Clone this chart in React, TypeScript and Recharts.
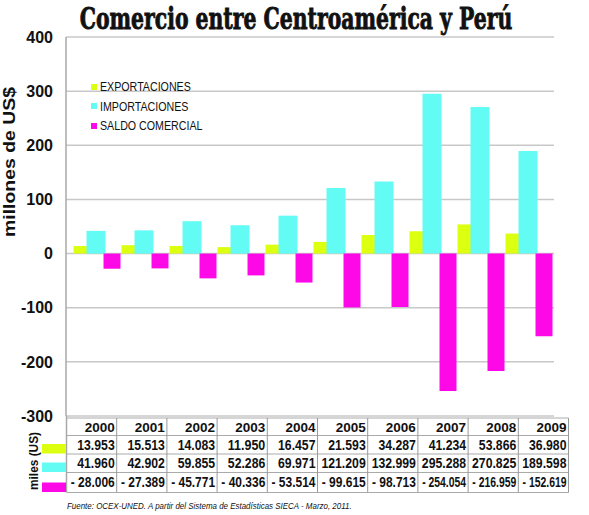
import React, { useLayoutEffect, useRef, useState } from "react";
import { BarChart, Bar, XAxis, YAxis, CartesianGrid, Legend } from "recharts";

// values in millions of US$ (table shows them as "miles")
const years = ["2000", "2001", "2002", "2003", "2004", "2005", "2006", "2007", "2008", "2009"];
const exportaciones = [13.953, 15.513, 14.083, 11.95, 16.457, 21.593, 34.287, 41.234, 53.866, 36.98];
const importaciones = [41.96, 42.902, 59.855, 52.286, 69.971, 121.209, 132.999, 295.288, 270.825, 189.598];
const saldo = [-28.006, -27.389, -45.771, -40.336, -53.514, -99.615, -98.713, -254.054, -216.959, -152.619];
const yTicks = [-300, -200, -100, 0, 100, 200, 300, 400];

const COL_EXP = "#DDFF10";
const COL_IMP = "#62FCF4";
const COL_SAL = "#FF08E8";

const data = years.map((y, i) => ({
	year: y,
	exp: exportaciones[i],
	imp: importaciones[i],
	saldo: saldo[i],
}));

const fmt = (v: number) => (v < 0 ? "- " + Math.abs(v).toFixed(3) : v.toFixed(3));

// the source table uses a narrow font, squeeze the numbers to fit
const fitWidth = (v: number) => {
	if (v < 0) return 44;
	const digits = Math.abs(v).toFixed(3).replace(".", "").length;
	return digits * 6.8 + 3.5;
};

const tableRows = [
	{ color: COL_EXP, values: exportaciones },
	{ color: COL_IMP, values: importaciones },
	{ color: COL_SAL, values: saldo },
];

const SANS = '"Liberation Sans", Arial, sans-serif';

// svg text squeezed horizontally to a given width (scale, so the box shrinks too)
const FitText = ({ x, y, width, anchor = "start", rotate = false, children, ...rest }: any) => {
	const ref = useRef<SVGTextElement>(null);
	const [k, setK] = useState(1);
	useLayoutEffect(() => {
		if (ref.current) {
			const w = ref.current.getComputedTextLength();
			if (w > 0) setK(width / w);
		}
	}, [width]);
	const t = rotate
		? `translate(${x},${y}) rotate(-90) scale(${k},1)`
		: `translate(${x},${y}) scale(${k},1)`;
	return (
		<text ref={ref} x={0} y={0} transform={t} textAnchor={anchor} {...rest}>
			{children}
		</text>
	);
};

const LegendBox = (props: any) => {
	const { payload } = props;
	return (
		<div style={{ fontFamily: SANS, fontSize: 13, color: "#111" }}>
			{(payload || []).map((p: any) => (
				<div key={p.value} style={{ height: 19.6, display: "flex", alignItems: "center" }}>
					<span style={{ display: "inline-block", width: 6, height: 6, background: p.color, marginRight: 3 }} />
					<span style={{ display: "inline-block", transform: "scaleX(0.82)", transformOrigin: "left center", whiteSpace: "nowrap" }}>
						{p.value}
					</span>
				</div>
			))}
		</div>
	);
};

const Overlay = () => {
	const rowLines = [418, 435.5, 454, 472.5, 492.5];
	const colW = 50.2;
	const left = 66.5;
	const baselines = [432, 450, 468, 487];
	return (
		<svg width={589} height={515} style={{ position: "absolute", left: 0, top: 0, pointerEvents: "none" }}>
			<FitText
				x={296}
				y={29}
				width={433}
				anchor="middle"
				fontFamily='"DejaVu Serif", serif'
				fontWeight="bold"
				fontSize={30}
				fill="#111"
				stroke="#111"
				strokeWidth={0.9}
			>
				Comercio entre Centroamérica y Perú
			</FitText>
			<FitText x={15} y={162} width={150} rotate anchor="middle" fontFamily={SANS} fontWeight="bold" fontSize={17} fill="#111">
				millones de US$
			</FitText>
			<FitText x={38} y={461} width={58} rotate anchor="middle" fontFamily={SANS} fontWeight="bold" fontSize={13} fill="#111">
				miles (US)
			</FitText>
			{/* table grid */}
			{rowLines.map((y) => (
				<line key={y} x1={left} x2={left + colW * 10} y1={y} y2={y} stroke="#aaa" strokeWidth={1} />
			))}
			{years.map((_, i) => (
				<line key={i} x1={left + colW * (i + 1)} x2={left + colW * (i + 1)} y1={418} y2={492.5} stroke="#999" strokeWidth={1} />
			))}
			<line x1={left} x2={left} y1={416} y2={492.5} stroke="#a8a8a8" strokeWidth={1.5} />
			{years.map((y, i) => (
				<text key={y} x={left + colW * (i + 1) - 2} y={baselines[0]} textAnchor="end" fontFamily={SANS} fontWeight="bold" fontSize={13.5} fill="#111">
					{y}
				</text>
			))}
			{tableRows.map((r, ri) => (
				<g key={ri}>
					<rect x={42} y={rowLines[ri + 2] - 10} width={24} height={9.5} fill={r.color} />
					{r.values.map((v, i) => (
						<FitText
							key={i}
							x={left + colW * (i + 1) - 2}
							y={baselines[ri + 1]}
							width={fitWidth(v)}
							anchor="end"
							fontFamily={SANS}
							fontWeight="bold"
							fontSize={14}
							fill="#111"
						>
							{fmt(v)}
						</FitText>
					))}
				</g>
			))}
			<FitText x={67} y={508.5} width={285} fontFamily={SANS} fontStyle="italic" fontSize={9.5} fill="#111">
				Fuente: OCEX-UNED. A partir del Sistema de Estadísticas SIECA - Marzo, 2011.
			</FitText>
		</svg>
	);
};

export default function App() {
	return (
		<div style={{ position: "absolute", left: 0, top: 0, width: 589, height: 515, background: "#fff" }}>
			<BarChart
				width={589}
				height={515}
				data={data}
				margin={{ top: 37, right: 35, bottom: 99, left: 6 }}
				barGap={-2}
				barCategoryGap={0}
			>
				<CartesianGrid vertical={false} stroke="#c8c8c8" strokeWidth={1.5} />
				<XAxis dataKey="year" hide padding={{ left: 6.5, right: 1.5 }} />
				<YAxis
					width={60}
					domain={[-300, 400]}
					ticks={yTicks}
					interval={0}
					tickSize={0}
					tickMargin={13}
					axisLine={{ stroke: "#a8a8a8", strokeWidth: 1.5 }}
					tick={{ fill: "#111", fontFamily: SANS, fontWeight: "bold", fontSize: 16 }}
				/>
				<Legend
					content={<LegendBox />}
					layout="horizontal"
					align="center"
					verticalAlign="middle"
					wrapperStyle={{ position: "absolute", left: 91, top: 77, width: "auto" }}
				/>
				<Bar dataKey="exp" name="EXPORTACIONES" fill={COL_EXP} barSize={15} isAnimationActive={false} />
				<Bar dataKey="imp" name="IMPORTACIONES" fill={COL_IMP} barSize={19} isAnimationActive={false} />
				<Bar dataKey="saldo" name="SALDO COMERCIAL" fill={COL_SAL} barSize={17} isAnimationActive={false} />
			</BarChart>
			<Overlay />
		</div>
	);
}
